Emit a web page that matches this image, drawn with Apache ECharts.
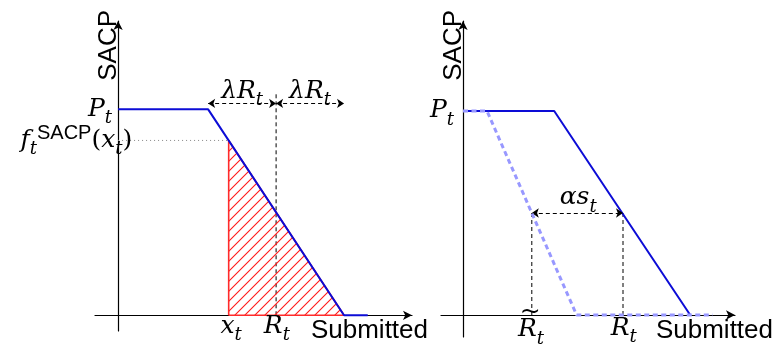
<!DOCTYPE html>
<html><head><meta charset="utf-8">
<script src="https://cdn.jsdelivr.net/npm/echarts@6/dist/echarts.min.js"></script>
<style>html,body{margin:0;padding:0;background:#fff}#c{width:776px;height:344px}</style>
</head><body><div id="c"></div>
<script>
// ---- Left panel (x: submitted quantity, y: SACP) ----
const leftPriceCurve   = [[0,10],[5.7,10],[14.3,0],[15.8,0]];
const leftShadedArea   = [[7,0],[7,8.49],[14.3,0],[7,0]];
const leftDottedLevel  = [[0,8.49],[7,8.49]];
const leftRtGuide      = [[10,0],[10,10.76]];
const leftLambdaArrows = [[[5.7,10.29],[10,10.29]],[[10,10.29],[14.3,10.29]]];
const leftLabels = [
  {text:'{m|P}{s|t}', at:[0,10], pos:'left', dist:6},
  {text:'{m|f}{s|t}{u|SACP}{r|(}{m|x}{s|t}{r|)}', at:[0.9,8.49], pos:'left', dist:0},
  {text:'{m|λR}{s|t}', at:[7.85,10.86]},
  {text:'{m|λR}{s|t}', at:[12.15,10.86]},
  {text:'{m|x}{s|t}', at:[7.15,-0.55]},
  {text:'{m|R}{s|t}', at:[10.05,-0.55]}
];
// ---- Right panel ----
const rightPriceCurve   = [[0,10],[5.7,10],[14.2,0]];
const rightShiftedCurve = [[0,10],[1.5,10],[7.1,0],[15.6,0]];
const rightGuides       = [[[4.3,0],[4.3,5]],[[10,0],[10,5]]];
const rightAlphaArrow   = [[4.3,5],[10,5]];
const rightLabels = [
  {text:'{m|P}{s|t}', at:[0,10], pos:'left', dist:9},
  {text:'{m|αs}{s|t}', at:[7.2,5.74]},
  {text:'{m|R}{s|t}', at:[4.25,-0.73]},
  {text:'{r|~}', at:[4.2,0.1]},
  {text:'{m|R}{s|t}', at:[10.05,-0.65]}
];
const axisNameX = 'Submitted', axisNameY = 'SACP';

const mathFont = 'DejaVu Serif';
const rich = {
  m:{fontFamily:mathFont, fontStyle:'italic', fontSize:25, color:'#000'},
  r:{fontFamily:mathFont, fontSize:25, color:'#000'},
  s:{fontFamily:mathFont, fontStyle:'italic', fontSize:18, color:'#000', padding:[18,0,0,0]},
  u:{fontFamily:'Liberation Sans', fontSize:20, color:'#000', padding:[0,0,13,0]}
};

// hatch pattern
const pc = document.createElement('canvas'); pc.width = 10; pc.height = 10;
const g = pc.getContext('2d'); g.strokeStyle = '#ff1a1a'; g.lineWidth = 1.1;
g.beginPath(); g.moveTo(0,10); g.lineTo(10,0); g.moveTo(-2,2); g.lineTo(2,-2); g.moveTo(8,12); g.lineTo(12,8); g.stroke();

const grids = [
  {left:95, top:21, width:317, height:316},
  {left:441, top:21, width:294, height:316}
];
const xRanges = [[-1.46,18.6],[-1.375,17]];
const yRanges = [[-0.76,14.29],[-1.078,14.41]];
const nameGapsX = [16,38];

function axisLine(){ return {show:true, onZero:true, symbol:['none','arrow'], symbolSize:[7,9], lineStyle:{color:'#000', width:1.2}}; }
const xAxes = grids.map((_,i)=>({type:'value', gridIndex:i, min:xRanges[i][0], max:xRanges[i][1],
  axisLine:axisLine(), axisTick:{show:false}, axisLabel:{show:false}, splitLine:{show:false},
  name:axisNameX, nameLocation:'end', nameGap:nameGapsX[i],
  nameTextStyle:{fontFamily:'Liberation Sans', fontSize:26, color:'#000', align:'right', verticalAlign:'top', padding:[3,0,0,0]}}));
const yAxes = grids.map((_,i)=>({type:'value', gridIndex:i, min:yRanges[i][0], max:yRanges[i][1],
  axisLine:axisLine(), axisTick:{show:false}, axisLabel:{show:false}, splitLine:{show:false},
  name:axisNameY, nameLocation:'end', nameRotate:90, nameGap:11,
  nameTextStyle:{fontFamily:'Liberation Sans', fontSize:26, lineHeight:18, color:'#000', align:'right', verticalAlign:'bottom'}}));

function seg(data, i, style, z){ return {type:'line', xAxisIndex:i, yAxisIndex:i, data, symbol:'none', silent:true, z:z||2, lineStyle:style}; }
function arrows(pairs, i){ return {type:'line', xAxisIndex:i, yAxisIndex:i, data:[], silent:true,
  markLine:{silent:true, symbol:['arrow','arrow'], symbolSize:7, label:{show:false},
    lineStyle:{color:'#000', width:1, type:[4,3]},
    data: pairs.map(p=>[{coord:p[0]},{coord:p[1]}])}}; }
function labels(items, i){ return {type:'scatter', xAxisIndex:i, yAxisIndex:i, symbolSize:0, silent:true, z:10, clip:false,
  itemStyle:{opacity:1},
  data: items.map(it=>({value:it.at, label:{show:true, opacity:1, color:'#000', formatter:it.text, position:it.pos||'inside', distance:(it.dist!==undefined?it.dist:4), rich}}))}; }

const dashed = {color:'#000', width:1, type:[4,3]};
const series = [
  Object.assign(seg(leftShadedArea,0,{color:'#ff2a2a', width:1.6},3), {areaStyle:{color:{image:pc, repeat:'repeat'}, opacity:1}}),
  seg(leftDottedLevel,0,{color:'#888', width:1, type:[1,3]}),
  seg(leftRtGuide,0,dashed),
  seg(leftPriceCurve,0,{color:'#0c0cd6', width:2},5),
  arrows(leftLambdaArrows,0),
  labels(leftLabels,0),
  seg(rightPriceCurve,1,{color:'#0c0cd6', width:2},4),
  seg(rightShiftedCurve,1,{color:'#9898ff', width:3, type:[5,3.5]},5),
  ...rightGuides.map(s=>seg(s,1,dashed)),
  arrows([rightAlphaArrow],1),
  labels(rightLabels,1)
];

const chart = echarts.init(document.getElementById('c'), null, {renderer:'canvas'});
chart.setOption({animation:false, backgroundColor:'#fff', grid:grids, xAxis:xAxes, yAxis:yAxes, series});
</script></body></html>
